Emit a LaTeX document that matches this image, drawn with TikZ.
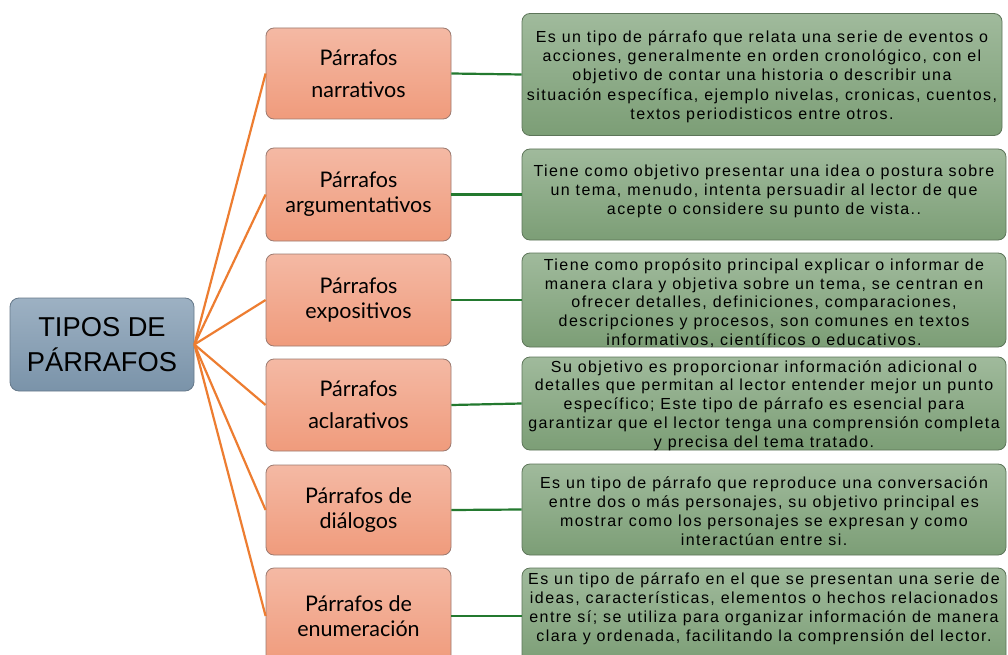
\documentclass[tikz,border=0pt]{standalone}
\usepackage{fontspec}
\setmainfont{Liberation Sans}
\newfontfamily\midfont{Lato}
\newfontfamily\rfont[LetterSpace=9]{Liberation Sans}
\usetikzlibrary{shadings}
\definecolor{maintop}{HTML}{9DB1C3}
\definecolor{mainbot}{HTML}{7A93A9}
\definecolor{mainborder}{HTML}{66798A}
\definecolor{midtop}{HTML}{F4B9A4}
\definecolor{midbot}{HTML}{F09B7C}
\definecolor{midborder}{HTML}{9C7A70}
\definecolor{rtop}{HTML}{A0BA9C}
\definecolor{rbot}{HTML}{7C9E76}
\definecolor{rborder}{HTML}{5D7559}
\definecolor{orangeline}{HTML}{ED7D31}
\definecolor{greenline}{HTML}{23792F}
\tikzset{
  mainbox/.style={draw=mainborder, line width=0.8pt, rounded corners=9pt,
    top color=maintop, bottom color=mainbot, minimum width=184pt, minimum height=93pt,
    inner sep=0pt, align=center, font=\fontsize{27.3}{35}\selectfont},
  midbox/.style={draw=midborder, line width=0.8pt, rounded corners=8pt,
    top color=midtop, bottom color=midbot, minimum width=185pt,
    inner sep=0pt, align=center, font=\midfont\fontsize{21.5}{25}\selectfont},
  midboxwide/.style={midbox, font=\midfont\fontsize{21.5}{32}\selectfont},
  rbox/.style={draw=rborder, line width=0.8pt, rounded corners=8pt,
    top color=rtop, bottom color=rbot, minimum width=484pt, inner sep=0pt},
  rtext/.style={inner sep=0pt, align=center, font=\rfont\fontsize{16}{19}\selectfont},
  orangecon/.style={draw=orangeline, line width=2.2pt},
  greencon/.style={draw=greenline, line width=2.2pt},
}
\begin{document}
\begin{tikzpicture}[x=1pt,y=-1pt]
\useasboundingbox (0,0) rectangle (1008,655);
\clip (0,0) rectangle (1008,655);
\fill[white] (0,0) rectangle (1008,655);

% main node
\node[mainbox] (main) at (102,344.5) {TIPOS DE\\PÁRRAFOS};

% middle nodes
\node[midboxwide, minimum height=91pt] (m1) at (358.5,73.5) {Párrafos\\narrativos};
\node[midbox, minimum height=93pt] (m2) at (358.5,194.5) {Párrafos\\argumentativos};
\node[midbox, minimum height=92pt] (m3) at (358.5,300) {Párrafos\\expositivos};
\node[midboxwide, minimum height=92pt] (m4) at (358.5,405) {Párrafos\\aclarativos};
\node[midbox, minimum height=90pt] (m5) at (358.5,510) {Párrafos de\\diálogos};
\node[midbox, minimum height=96pt] (m6) at (358.5,616) {Párrafos de\\enumeración};

% right boxes
\node[rbox, minimum width=480pt, minimum height=122pt] (r1) at (762,74.5) {};
\node[rbox, minimum height=91pt] (r2) at (764,194.5) {};
\node[rbox, minimum height=94pt] (r3) at (764,300) {};
\node[rbox, minimum height=93pt] (r4) at (764,403.5) {};
\node[rbox, minimum height=91pt] (r5) at (764,509.5) {};
\node[rbox, minimum height=96pt] (r6) at (764,616) {};

% right texts
\node[rtext, font=\rfont\fontsize{16}{19.3}\selectfont] (t1) at ([yshift=-2pt]r1.center) {Es un tipo de párrafo que relata una serie de eventos o\\acciones, generalmente en orden cronológico, con el\\objetivo de contar una historia o describir una\\situación específica, ejemplo nivelas, cronicas, cuentos,\\textos periodisticos entre otros.};
\node[rtext] (t2) at ([yshift=3pt]r2.center) {Tiene como objetivo presentar una idea o postura sobre\\un tema, menudo, intenta persuadir al lector de que\\acepte o considere su punto de vista..};
\node[rtext, font=\rfont\fontsize{16}{18.6}\selectfont] (t3) at ([yshift=-3pt]r3.center) {Tiene como propósito principal explicar o informar de\\manera clara y objetiva sobre un tema, se centran en\\ofrecer detalles, definiciones, comparaciones,\\descripciones y procesos, son comunes en textos\\informativos, científicos o educativos.};
\node[rtext, font=\rfont\fontsize{16}{18.8}\selectfont] (t4) at ([yshift=-2pt]r4.center) {Su objetivo es proporcionar información adicional o\\detalles que permitan al lector entender mejor un punto\\específico; Este tipo de párrafo es esencial para\\garantizar que el lector tenga una comprensión completa\\y precisa del tema tratado.};
\node[rtext] (t5) at ([yshift=-2pt]r5.center) {Es un tipo de párrafo que reproduce una conversación\\entre dos o más personajes, su objetivo principal es\\mostrar como los personajes se expresan y como\\interactúan entre si.};
\node[rtext] (t6) at ([yshift=7.5pt]r6.center) {Es un tipo de párrafo en el que se presentan una serie de\\ideas, características, elementos o hechos relacionados\\entre sí; se utiliza para organizar información de manera\\clara y ordenada, facilitando la comprensión del lector.};

% connectors
\foreach \m in {m1,m2,m3,m4,m5,m6}
  \draw[orangecon] (main.east) -- (\m.west);
\foreach \m/\r in {m1/r1,m2/r2,m3/r3,m4/r4,m5/r5,m6/r6}
  \draw[greencon] (\m.east) -- (\r.west);
\end{tikzpicture}
\end{document}
